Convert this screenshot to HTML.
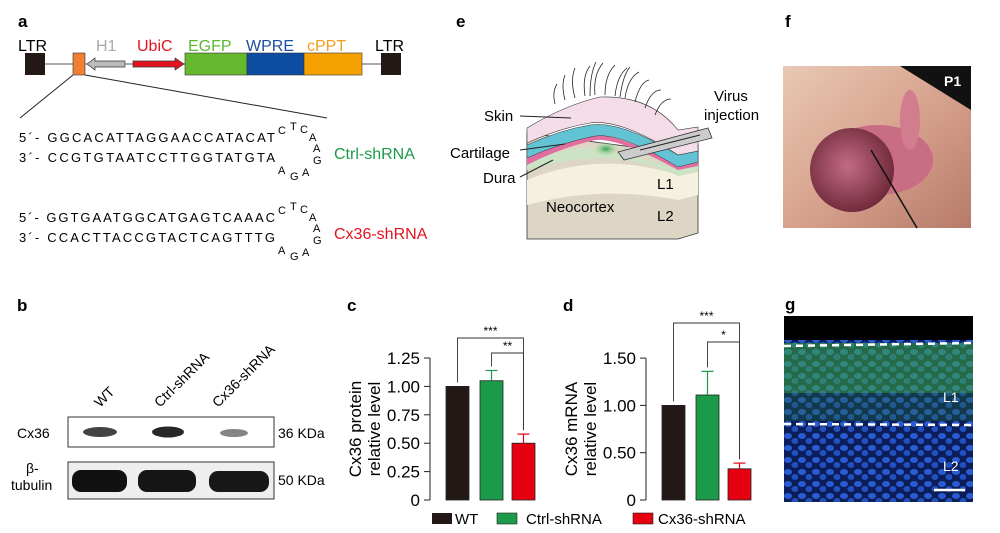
<!DOCTYPE html>
<html><head><meta charset="utf-8"><style>
body{margin:0;background:#fff;}
svg{display:block;font-family:"Liberation Sans",Arial,sans-serif;}
</style></head><body>
<svg id="fig" width="1000" height="533" viewBox="0 0 1000 533">
<defs>
<radialGradient id="gdot" cx="0.5" cy="0.5" r="0.5"><stop offset="0" stop-color="#2fa84f"/><stop offset="1" stop-color="#c9e6c0" stop-opacity="0"/></radialGradient>
<linearGradient id="skinbg" x1="0" y1="0" x2="1" y2="1"><stop offset="0" stop-color="#e8c9b4"/><stop offset="0.5" stop-color="#d8a38e"/><stop offset="1" stop-color="#b77a6a"/></linearGradient>
<radialGradient id="head" cx="0.45" cy="0.45" r="0.6"><stop offset="0" stop-color="#c46b86"/><stop offset="1" stop-color="#6a2636"/></radialGradient>
<pattern id="nuc" width="14" height="12" patternUnits="userSpaceOnUse"><rect width="14" height="12" fill="#0b1e5a"/><ellipse cx="4" cy="4" rx="4" ry="3" fill="#2a5bd0"/><ellipse cx="11" cy="9" rx="3.5" ry="3" fill="#2350c0"/></pattern>
</defs>

<!-- Panel a -->
<g>
<text x="18" y="27" font-size="17" font-weight="bold">a</text>
<text x="18" y="51" font-size="16">LTR</text>
<text x="96" y="51" font-size="16" fill="#aaa">H1</text>
<text x="137" y="51" font-size="16" fill="#e2141f">UbiC</text>
<text x="188" y="51" font-size="16" fill="#5cb833">EGFP</text>
<text x="246" y="51" font-size="16" fill="#1a4fa0">WPRE</text>
<text x="307" y="51" font-size="16" fill="#f0a020">cPPT</text>
<text x="375" y="51" font-size="16">LTR</text>
<line x1="36" y1="64" x2="390" y2="64" stroke="#555" stroke-width="1"/>
<rect x="25" y="53" width="20" height="22" fill="#231815"/>
<rect x="73" y="53" width="12" height="22" fill="#ee7f33" stroke="#333" stroke-width="0.6"/>
<polygon points="87,64 95,58 95,61 125,61 125,67 95,67 95,70" fill="#bbb" stroke="#333" stroke-width="0.7"/>
<polygon points="133,61 175,61 175,58 184,64 175,70 175,67 133,67" fill="#e2141f" stroke="#333" stroke-width="0.7"/>
<rect x="185" y="53" width="62" height="22" fill="#66b92f" stroke="#333" stroke-width="0.6"/>
<rect x="247" y="53" width="57" height="22" fill="#0c4da2" stroke="#333" stroke-width="0.6"/>
<rect x="304" y="53" width="58" height="22" fill="#f5a102" stroke="#333" stroke-width="0.6"/>
<rect x="381" y="53" width="20" height="22" fill="#231815"/>
<line x1="73" y1="75" x2="20" y2="118" stroke="#222" stroke-width="1"/>
<line x1="85" y1="75" x2="327" y2="118" stroke="#222" stroke-width="1"/>
<g font-size="13">
<text x="19" y="142" textLength="256" lengthAdjust="spacing">5´- GGCACATTAGGAACCATACAT</text>
<text x="19" y="162" textLength="256" lengthAdjust="spacing">3´- CCGTGTAATCCTTGGTATGTA</text>
<text x="278" y="134" font-size="11">C</text><text x="290" y="130" font-size="11">T</text><text x="300" y="133" font-size="11">C</text>
<text x="309" y="141" font-size="11">A</text><text x="313" y="152" font-size="11">A</text><text x="313" y="164" font-size="11">G</text>
<text x="278" y="174" font-size="11">A</text><text x="290" y="180" font-size="11">G</text><text x="302" y="176" font-size="11">A</text>
</g>
<text x="334" y="159" font-size="16" fill="#1d9a48">Ctrl-shRNA</text>
<g font-size="13">
<text x="19" y="222" textLength="256" lengthAdjust="spacing">5´- GGTGAATGGCATGAGTCAAAC</text>
<text x="19" y="242" textLength="256" lengthAdjust="spacing">3´- CCACTTACCGTACTCAGTTTG</text>
<text x="278" y="214" font-size="11">C</text><text x="290" y="210" font-size="11">T</text><text x="300" y="213" font-size="11">C</text>
<text x="309" y="221" font-size="11">A</text><text x="313" y="232" font-size="11">A</text><text x="313" y="244" font-size="11">G</text>
<text x="278" y="254" font-size="11">A</text><text x="290" y="260" font-size="11">G</text><text x="302" y="256" font-size="11">A</text>
</g>
<text x="334" y="239" font-size="16" fill="#e2141f">Cx36-shRNA</text>
</g>

<!-- Panel b -->
<g>
<text x="17" y="311" font-size="17" font-weight="bold">b</text>
<text transform="translate(100,408) rotate(-45)" font-size="14">WT</text>
<text transform="translate(160,408) rotate(-45)" font-size="14">Ctrl-shRNA</text>
<text transform="translate(218,408) rotate(-45)" font-size="14">Cx36-shRNA</text>
<rect x="68" y="417" width="206" height="30" fill="#fff" stroke="#333"/>
<ellipse cx="100" cy="432" rx="17" ry="5" fill="#222" opacity="0.85"/>
<ellipse cx="168" cy="432" rx="16" ry="5.5" fill="#111" opacity="0.9"/>
<ellipse cx="234" cy="433" rx="14" ry="4" fill="#333" opacity="0.6"/>
<rect x="68" y="462" width="206" height="37" fill="#eee" stroke="#333"/>
<rect x="72" y="470" width="55" height="22" rx="9" fill="#111"/>
<rect x="138" y="470" width="58" height="22" rx="9" fill="#151515"/>
<rect x="209" y="471" width="60" height="21" rx="9" fill="#181818"/>
<text x="17" y="438" font-size="14">Cx36</text>
<text x="26" y="473" font-size="14">β-</text>
<text x="11" y="490" font-size="14">tubulin</text>
<text x="278" y="438" font-size="14">36 KDa</text>
<text x="278" y="485" font-size="14">50 KDa</text>
</g>

<!-- Panel c & d -->
<text x="347" y="311" font-size="17" font-weight="bold">c</text>
<text x="563" y="311" font-size="17" font-weight="bold">d</text>
<g id="chartC"></g>
<g id="chartD"></g>
<g>
<rect x="432" y="513" width="20" height="11" fill="#231815"/>
<text x="455" y="524" font-size="15">WT</text>
<rect x="497" y="513" width="20" height="11" fill="#1b9a4a" stroke="#222" stroke-width="0.6"/>
<text x="526" y="524" font-size="15">Ctrl-shRNA</text>
<rect x="633" y="513" width="20" height="11" fill="#e60012" stroke="#222" stroke-width="0.6"/>
<text x="658" y="524" font-size="15">Cx36-shRNA</text>
</g>

<!-- Panel e -->
<g>
<text x="456" y="27" font-size="17" font-weight="bold">e</text>
<polygon points="527,133 678,153 698,145 698,233 678,239 527,239" fill="#ddd6c4" stroke="#333" stroke-width="0.8"/>
<path d="M527,180 Q600,150 678,175 L698,170 L698,195 L678,200 Q600,185 527,205 Z" fill="#f5f1de"/>
<path d="M527,165 Q575,140 610,152 Q645,158 678,170 L698,165 L698,172 L678,176 Q640,158 600,158 Q560,160 527,170 Z" fill="#cde3c5"/>
<path d="M527,158 Q565,140 590,135 Q615,132 678,165 L698,160 L698,166 L678,170 Q620,138 595,140 Q560,148 527,165 Z" fill="#e06fa0"/>
<path d="M527,145 Q560,130 590,125 Q620,120 678,155 L698,150 L698,162 L678,167 Q620,132 595,136 Q560,143 527,158 Z" fill="#62c3d5" stroke="#333" stroke-width="0.5"/>
<path d="M527,128 Q565,105 600,97 Q650,95 678,130 L698,127 L698,151 L678,155 Q620,118 590,123 Q560,128 527,143 Z" fill="#f4dce8" stroke="#333" stroke-width="0.6"/>
<ellipse cx="606" cy="149" rx="14" ry="8" fill="url(#gdot)"/>
<g stroke="#222" stroke-width="0.8" fill="none">
<path d="M575,98 q-5,-18 0,-30"/><path d="M585,96 q-3,-20 5,-30"/><path d="M595,95 q-2,-20 8,-32"/><path d="M605,95 q0,-20 10,-30"/><path d="M615,96 q2,-20 12,-28"/><path d="M625,98 q3,-20 14,-26"/><path d="M635,102 q5,-20 14,-22"/><path d="M645,108 q6,-18 16,-18"/><path d="M655,115 q6,-16 16,-16"/><path d="M565,100 q-4,-15 0,-25"/><path d="M555,104 q-3,-12 2,-20"/><path d="M590,96 q0,-22 6,-34"/><path d="M620,97 q3,-22 10,-30"/>
</g>
<polygon points="618,152 708,128 712,138 624,160" fill="#ccc" stroke="#333" stroke-width="0.8"/>
<line x1="700" y1="135" x2="640" y2="150" stroke="#222" stroke-width="1"/>
<text x="484" y="121" font-size="15">Skin</text>
<line x1="520" y1="116" x2="571" y2="118" stroke="#222"/>
<text x="450" y="158" font-size="15">Cartilage</text>
<line x1="520" y1="150" x2="565" y2="144" stroke="#222"/>
<text x="483" y="183" font-size="15">Dura</text>
<line x1="520" y1="177" x2="553" y2="160" stroke="#222"/>
<text x="546" y="212" font-size="15">Neocortex</text>
<text x="657" y="189" font-size="15">L1</text>
<text x="657" y="221" font-size="15">L2</text>
<text x="714" y="101" font-size="15">Virus</text>
<text x="704" y="120" font-size="15">injection</text>
</g>

<!-- Panel f -->
<g>
<text x="785" y="27" font-size="17" font-weight="bold">f</text>
<rect x="783" y="66" width="188" height="162" fill="url(#skinbg)"/>
<polygon points="900,66 971,66 971,110" fill="#111"/>
<ellipse cx="878" cy="160" rx="55" ry="35" fill="#c86d84"/>
<ellipse cx="852" cy="170" rx="42" ry="42" fill="url(#head)"/>
<ellipse cx="910" cy="120" rx="10" ry="30" fill="#d27c90"/>
<line x1="871" y1="150" x2="917" y2="228" stroke="#111" stroke-width="1.5"/>
<text x="944" y="86" font-size="14" font-weight="bold" fill="#fff">P1</text>
</g>

<!-- Panel g -->
<g>
<text x="785" y="310" font-size="17" font-weight="bold">g</text>
<rect x="784" y="316" width="189" height="186" fill="url(#nuc)"/>
<rect x="784" y="316" width="189" height="24" fill="#000"/>
<rect x="784" y="343" width="189" height="50" fill="#3aa93a" opacity="0.55"/>
<rect x="784" y="393" width="189" height="28" fill="#1f6a3a" opacity="0.35"/>
<line x1="784" y1="346" x2="973" y2="343" stroke="#fff" stroke-width="2.5" stroke-dasharray="7,5"/>
<line x1="784" y1="424" x2="973" y2="425" stroke="#fff" stroke-width="2.5" stroke-dasharray="7,5"/>
<text x="943" y="402" font-size="14" fill="#fff">L1</text>
<text x="943" y="471" font-size="14" fill="#fff">L2</text>
<line x1="934" y1="490" x2="965" y2="490" stroke="#fff" stroke-width="2.5"/>
</g>
</svg>
<script>
const NS='http://www.w3.org/2000/svg';
const groups=['WT','Ctrl-shRNA','Cx36-shRNA'];
const colors=['#231815','#1b9a4a','#e60012'];
const cValues=[1.0,1.05,0.50];
const cErrors=[0,0.09,0.08];
const cTicks=[0,0.25,0.5,0.75,1.0,1.25];
const cTickLabels=['0','0.25','0.50','0.75','1.00','1.25'];
const dValues=[1.0,1.11,0.33];
const dErrors=[0,0.25,0.06];
const dTicks=[0,0.5,1.0,1.5];
const dTickLabels=['0','0.50','1.00','1.50'];
function mk(parent,tag,attrs){const e=document.createElementNS(NS,tag);for(const k in attrs)e.setAttribute(k,attrs[k]);parent.appendChild(e);return e;}
function draw(gid,cfg){
  const g=document.getElementById(gid);
  const y=v=>cfg.y0-v*cfg.scale;
  const ax=mk(g,'line',{x1:cfg.axisX,x2:cfg.axisX,y1:cfg.y0,y2:y(cfg.ticks[cfg.ticks.length-1]),stroke:'#222','stroke-width':1});
  
  
  cfg.ticks.forEach((t,i)=>{
    mk(g,'line',{x1:cfg.axisX-6,x2:cfg.axisX,y1:y(t),y2:y(t),stroke:'#222'});
    const tx=mk(g,'text',{x:cfg.axisX-10,y:y(t)+6,'font-size':17,'text-anchor':'end'});
    tx.textContent=cfg.labels[i];
    
    
  });
  const cx=[];
  cfg.values.forEach((v,i)=>{
    const x=cfg.barX[i];cx.push(x+cfg.bw/2);
    const r=mk(g,'rect',{x:x,y:y(v),width:cfg.bw,height:cfg.y0-y(v),fill:colors[i],stroke:'#222','stroke-width':0.8});
    
    
    if(cfg.errs[i]>0){
      const top=y(v+cfg.errs[i]);
      mk(g,'line',{x1:x+cfg.bw/2,x2:x+cfg.bw/2,y1:y(v),y2:top,stroke:colors[i],'stroke-width':1.2});
      mk(g,'line',{x1:x+cfg.bw/2-6,x2:x+cfg.bw/2+6,y1:top,y2:top,stroke:colors[i],'stroke-width':1.2});
    }
  });
  const tops=cfg.values.map((v,i)=>y(v+cfg.errs[i])-4);
  cfg.brackets.forEach(b=>{
    const p=mk(g,'path',{d:`M${cx[b.a]},${tops[b.a]} V${b.y} H${cx[b.b]} V${tops[b.b]}`,fill:'none',stroke:'#333','stroke-width':0.9});
    
    
    const t=mk(g,'text',{x:(cx[b.a]+cx[b.b])/2,y:b.y-3,'font-size':12,'text-anchor':'middle'});
    t.textContent=b.s;
    
    
  });
  const yl=mk(g,'text',{transform:`translate(${cfg.titleX},${(cfg.y0+y(cfg.ticks[cfg.ticks.length-1]))/2}) rotate(-90)`,'font-size':17,'text-anchor':'middle'});
  
  
  cfg.title.forEach((s,i)=>{const ts=mk(yl,'tspan',{x:0,dy:i?19:0});ts.textContent=s;});
}
draw('chartC',{y0:500,scale:113.6,axisX:430,ticks:cTicks,labels:cTickLabels,values:cValues,errs:cErrors,barX:[446,480,512],bw:23,titleX:361,title:['Cx36 protein','relative level'],
  brackets:[{a:0,b:2,y:338,s:'***'},{a:1,b:2,y:353,s:'**'}]});
draw('chartD',{y0:500,scale:94.6,axisX:646,ticks:dTicks,labels:dTickLabels,values:dValues,errs:dErrors,barX:[662,696,728],bw:23,titleX:577,title:['Cx36 mRNA','relative level'],
  brackets:[{a:0,b:2,y:323,s:'***'},{a:1,b:2,y:342,s:'*'}]});
</script>
</body></html>
